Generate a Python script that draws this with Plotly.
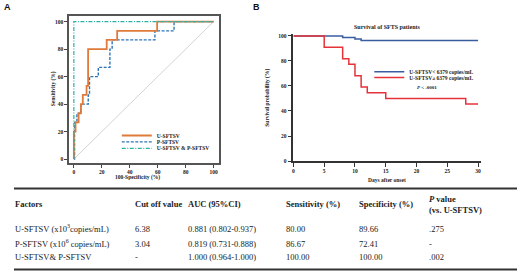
import plotly.graph_objects as go

W, H = 520, 274

# ---------------- Panel A: ROC curves ----------------
u_fpr = [0, 0, 1.2, 1.2, 3.4, 3.4, 5.1, 5.1, 6.4, 6.4, 9.1, 9.1, 10.2, 10.2, 23.5, 23.5, 31.0, 31.0, 59.6, 59.6, 100]
u_tpr = [0, 20, 20, 26.7, 26.7, 33.3, 33.3, 40, 40, 46.7, 46.7, 53.3, 53.3, 80, 80, 86.7, 86.7, 93.3, 93.3, 100, 100]

p_fpr = [0, 0.5, 0.5, 2.2, 2.2, 5.0, 5.0, 10.3, 10.3, 11.2, 11.2, 17.5, 17.5, 25.8, 25.8, 27.4, 27.4, 58.0, 58.0, 71.7, 71.7, 100]
p_tpr = [0, 0, 26.7, 26.7, 33.3, 33.3, 40, 40, 46.7, 46.7, 60, 60, 66.7, 66.7, 80, 80, 86.7, 86.7, 93.3, 93.3, 100, 100]

up_fpr = [0, 0, 100]
up_tpr = [0, 100, 100]

ref_x = [0, 100]
ref_y = [0, 100]

roc_names = ["U-SFTSV", "P-SFTSV", "U-SFTSV & P-SFTSV"]
roc_ticks = [0, 20, 40, 60, 80, 100]

# ---------------- Panel B: survival curves ----------------
low_days = [0, 8, 10, 11, 30]
low_surv = [100, 98.8, 97.6, 96.4, 96.4]
high_days = [0, 5, 8, 9, 10, 11, 12, 15, 28, 30]
high_surv = [100, 90.9, 81.8, 77.3, 68.2, 59.1, 54.5, 50.0, 45.5, 45.5]
surv_names = ["U-SFTSV< 6379 copies/mL", "U-SFTSV\u2265 6379 copies/mL"]
day_ticks = [0, 5, 10, 15, 20, 25, 30]
surv_ticks = [0, 20, 40, 60, 80, 100]

# ---------------- Table ----------------
tbl_header = ["Factors", "Cut off value", "AUC (95%CI)", "Sensitivity (%)", "Specificity (%)", "<i>P</i> value<br>(vs. U-SFTSV)"]
factors = ["U-SFTSV (x10<sup>3</sup>copies/mL)", "P-SFTSV (x10<sup>6</sup> copies/mL)", "U-SFTSV& P-SFTSV"]
cutoffs = ["6.38", "3.04", "-"]
aucs = ["0.881 (0.802-0.937)", "0.819 (0.731-0.888)", "1.000 (0.964-1.000)"]
sens = ["80.00", "86.67", "100.00"]
spec = ["89.66", "72.41", "100.00"]
pvals = [".275", "-", ".002"]

SERIF = "Liberation Serif, Times New Roman, serif"
SANS = "Liberation Sans, Arial, sans-serif"


def px(x):
    return x / W


def py(y):
    return 1 - y / H


fig = go.Figure()

fig.add_trace(go.Scatter(x=ref_x, y=ref_y, mode="lines", line=dict(color="#c8c8c8", width=0.8),
                         showlegend=False, hoverinfo="skip", xaxis="x", yaxis="y"))
fig.add_trace(go.Scatter(x=p_fpr, y=p_tpr, mode="lines", name=roc_names[1],
                         line=dict(color="#2E75B6", width=1.4, dash="3px,1.5px"),
                         xaxis="x", yaxis="y", legend="legend2"))
fig.add_trace(go.Scatter(x=u_fpr, y=u_tpr, mode="lines", name=roc_names[0],
                         line=dict(color="#E07A3A", width=1.8),
                         xaxis="x", yaxis="y", legend="legend"))
fig.add_trace(go.Scatter(x=up_fpr, y=up_tpr, mode="lines", name=roc_names[2],
                         line=dict(color="#2DB3A6", width=1.2, dash="4px,1.5px,1px,1.5px"),
                         xaxis="x", yaxis="y", legend="legend3"))

fig.add_trace(go.Scatter(x=low_days, y=low_surv, mode="lines", name=surv_names[0], line_shape="hv",
                         line=dict(color="#3A5DA0", width=1.5), xaxis="x2", yaxis="y2", legend="legend4"))
fig.add_trace(go.Scatter(x=high_days, y=high_surv, mode="lines", name=surv_names[1], line_shape="hv",
                         line=dict(color="#E5333A", width=1.5), xaxis="x2", yaxis="y2", legend="legend5"))

tickfont = dict(family=SERIF, size=5.5, color="#222", weight="bold")

axA = dict(showgrid=False, zeroline=False, showline=True, mirror=True, linecolor="#555", linewidth=2,
           ticks="outside", ticklen=2.5, tickwidth=1, tickcolor="#444", tickvals=roc_ticks, tickfont=tickfont)
axB = dict(showgrid=False, zeroline=False, showline=True, linecolor="#333", linewidth=1.5,
           ticks="outside", ticklen=4, tickwidth=1.2, tickcolor="#333", tickfont=tickfont)

leg_common = dict(xanchor="left", yanchor="middle", bgcolor="rgba(0,0,0,0)", borderwidth=0,
                  font=dict(family=SERIF, size=5.5, color="#222", weight="bold"), itemwidth=30)

fig.update_layout(
    width=W, height=H, margin=dict(l=0, r=0, t=0, b=0),
    paper_bgcolor="white", plot_bgcolor="white",
    xaxis=dict(domain=[px(68), px(218)], range=[-3.57, 103.57], anchor="y", **axA),
    yaxis=dict(domain=[py(164), py(14)], range=[-2.86, 104.29], anchor="x", **axA),
    xaxis2=dict(domain=[px(293), px(481)], range=[0, 30.49], anchor="y2", tickvals=day_ticks, **axB),
    yaxis2=dict(domain=[py(162), py(33)], range=[0, 101.2], anchor="x2", tickvals=surv_ticks, **axB),
    legend=dict(x=px(116), y=py(136), **leg_common),
    legend2=dict(x=px(116), y=py(142.5), **leg_common),
    legend3=dict(x=px(116), y=py(149), **leg_common),
    legend4=dict(x=px(369), y=py(71), **leg_common),
    legend5=dict(x=px(369), y=py(77), **leg_common),
)

ann = []
ann.append(dict(text="<b>A</b>", x=px(1), y=py(5), xanchor="left", yanchor="middle",
                font=dict(family=SANS, size=9, color="#111")))
ann.append(dict(text="<b>B</b>", x=px(250), y=py(5), xanchor="left", yanchor="middle",
                font=dict(family=SANS, size=9, color="#111")))
ann.append(dict(text="<b>Sensitivity (%)</b>", x=px(52), y=py(88), textangle=-90, xanchor="center", yanchor="middle",
                font=dict(family=SERIF, size=5.5, color="#222")))
ann.append(dict(text="<b>100-Specificity (%)</b>", x=px(137), y=py(179), xanchor="center", yanchor="middle",
                font=dict(family=SERIF, size=5.5, color="#222")))
ann.append(dict(text="<b>Survival of SFTS patients</b>", x=px(387), y=py(25), xanchor="center", yanchor="middle",
                font=dict(family=SERIF, size=6, color="#222")))
ann.append(dict(text="<b>Survival probability (%)</b>", x=px(267), y=py(97), textangle=-90, xanchor="center",
                yanchor="middle", font=dict(family=SERIF, size=5.5, color="#222")))
ann.append(dict(text="<b>Days after onset</b>", x=px(387), y=py(181), xanchor="center", yanchor="middle",
                font=dict(family=SERIF, size=5.5, color="#222")))
ann.append(dict(text="<b><i>P</i> < .0001</b>", x=px(427), y=py(87), xanchor="center", yanchor="middle",
                font=dict(family=SERIF, size=5, color="#222")))

# table
col_x = [12, 132, 185, 284, 357, 427]
head_y = 206
row_y = [231, 246, 260]
tfont = dict(family=SERIF, size=8.5, color="#222")
for i, htxt in enumerate(tbl_header):
    ann.append(dict(text="<b>" + htxt + "</b>", x=px(col_x[i]), y=py(head_y), xanchor="left", yanchor="middle",
                    align="left", font=tfont))
columns = [factors, cutoffs, aucs, sens, spec, pvals]
for c, col in enumerate(columns):
    for r, val in enumerate(col):
        ann.append(dict(text=val, x=px(col_x[c]), y=py(row_y[r]), xanchor="left", yanchor="middle",
                        align="left", font=tfont))
for a in ann:
    a.update(xref="paper", yref="paper", showarrow=False)
fig.update_layout(annotations=ann)

fig.update_layout(shapes=[
    dict(type="line", xref="paper", yref="paper", x0=px(13), x1=px(517), y0=py(190), y1=py(190),
         line=dict(color="#333", width=2)),
    dict(type="line", xref="paper", yref="paper", x0=px(13), x1=px(517), y0=py(272.5), y1=py(272.5),
         line=dict(color="#333", width=2)),
])

fig.write_html("out.html", config={"displayModeBar": False},
               post_script="document.body.style.margin='0';document.body.style.overflow='hidden';")
